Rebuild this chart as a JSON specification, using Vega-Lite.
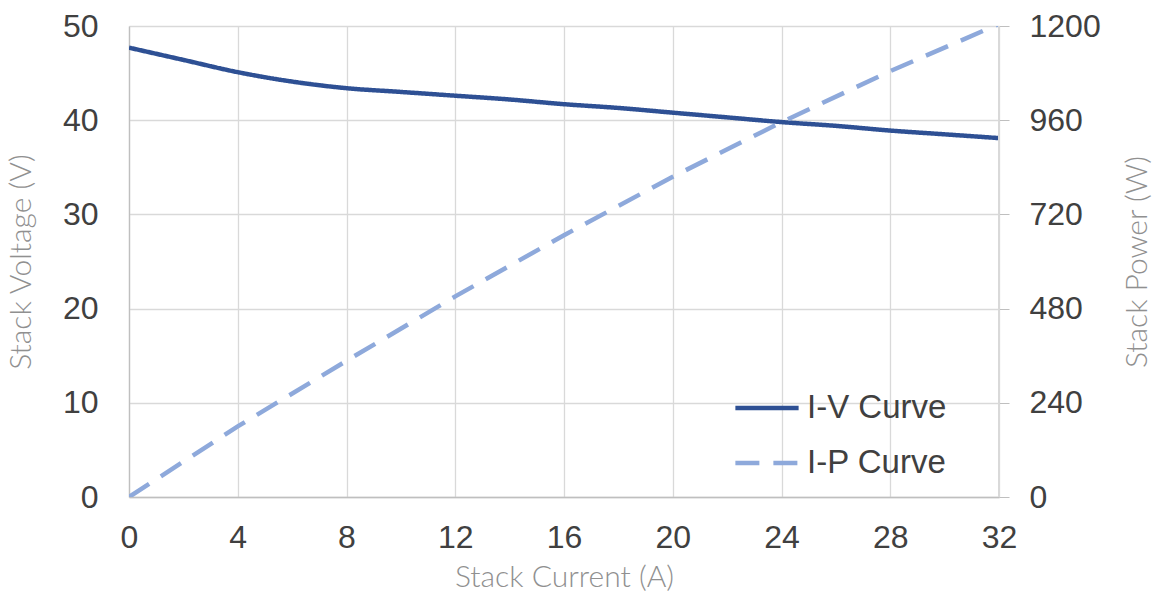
{
  "$schema": "https://vega.github.io/schema/vega-lite/v6.json",
  "width": 870,
  "height": 471,
  "autosize": {"type": "none"},
  "padding": {"left": 129, "top": 26, "right": 162, "bottom": 96},
  "background": "white",
  "config": {
    "view": {"stroke": null},
    "axis": {
      "labelFont": "Liberation Sans",
      "labelFontSize": 32,
      "labelColor": "#404040",
      "titleFont": "Lato",
      "titleFontWeight": 300,
      "titleFontSize": 30,
      "titleColor": "#909090",
      "gridColor": "#d9d9d9",
      "gridWidth": 1.3,
      "domainColor": "#bfbfbf",
      "domainWidth": 1.3,
      "tickColor": "#bfbfbf"
    },
    "legend": {
      "labelFont": "Liberation Sans",
      "labelFontSize": 33,
      "labelColor": "#404040"
    }
  },
  "datasets": {
    "curves": [
      {"series": "I-V Curve", "current": 0, "voltage": 47.7},
      {"series": "I-V Curve", "current": 2, "voltage": 46.4},
      {"series": "I-V Curve", "current": 4, "voltage": 45.1},
      {"series": "I-V Curve", "current": 6, "voltage": 44.1},
      {"series": "I-V Curve", "current": 8, "voltage": 43.4},
      {"series": "I-V Curve", "current": 10, "voltage": 43.0},
      {"series": "I-V Curve", "current": 12, "voltage": 42.6},
      {"series": "I-V Curve", "current": 14, "voltage": 42.2},
      {"series": "I-V Curve", "current": 16, "voltage": 41.7},
      {"series": "I-V Curve", "current": 18, "voltage": 41.3},
      {"series": "I-V Curve", "current": 20, "voltage": 40.8},
      {"series": "I-V Curve", "current": 22, "voltage": 40.3},
      {"series": "I-V Curve", "current": 24, "voltage": 39.8},
      {"series": "I-V Curve", "current": 26, "voltage": 39.4},
      {"series": "I-V Curve", "current": 28, "voltage": 38.9},
      {"series": "I-V Curve", "current": 30, "voltage": 38.5},
      {"series": "I-V Curve", "current": 32, "voltage": 38.1},
      {"series": "I-P Curve", "current": 0, "power": 0},
      {"series": "I-P Curve", "current": 4, "power": 180},
      {"series": "I-P Curve", "current": 8, "power": 347},
      {"series": "I-P Curve", "current": 12, "power": 511},
      {"series": "I-P Curve", "current": 16, "power": 667},
      {"series": "I-P Curve", "current": 20, "power": 816},
      {"series": "I-P Curve", "current": 24, "power": 955},
      {"series": "I-P Curve", "current": 28, "power": 1085},
      {"series": "I-P Curve", "current": 32, "power": 1205}
    ]
  },
  "data": {"name": "curves"},
  "encoding": {
    "x": {
      "field": "current",
      "type": "quantitative",
      "scale": {"domain": [0, 32], "nice": false},
      "axis": {
        "title": "Stack Current (A)",
        "values": [0, 4, 8, 12, 16, 20, 24, 28, 32],
        "ticks": false,
        "tickSize": 0,
        "labelPadding": 25,
        "titlePadding": 9,
        "labelFlush": false
      }
    },
    "color": {
      "field": "series",
      "type": "nominal",
      "scale": {"domain": ["I-V Curve", "I-P Curve"], "range": ["#2E5094", "#8EA9DB"]},
      "legend": {
        "title": null,
        "orient": "none",
        "legendX": 604,
        "legendY": 348,
        "symbolType": "stroke",
        "symbolSize": 4000,
        "symbolStrokeWidth": 4.5,
        "rowPadding": 4,
        "labelOffset": 6
      }
    },
    "strokeDash": {
      "field": "series",
      "type": "nominal",
      "scale": {"domain": ["I-V Curve", "I-P Curve"], "range": [[1, 0], [24, 14]]},
      "legend": {
        "title": null,
        "orient": "none",
        "legendX": 604,
        "legendY": 348,
        "symbolType": "stroke",
        "symbolSize": 4000,
        "symbolStrokeWidth": 4.5,
        "rowPadding": 4,
        "labelOffset": 6
      }
    }
  },
  "layer": [
    {
      "transform": [{"filter": "datum.series === 'I-V Curve'"}],
      "mark": {"type": "line", "strokeWidth": 4.5, "interpolate": "monotone", "clip": true},
      "encoding": {
        "y": {
          "field": "voltage",
          "type": "quantitative",
          "scale": {"domain": [0, 50], "nice": false},
          "axis": {
            "title": "Stack Voltage (V)",
            "orient": "left",
            "values": [0, 10, 20, 30, 40, 50],
            "ticks": false,
            "tickSize": 0,
            "labelPadding": 31,
            "titlePadding": 26
          }
        }
      }
    },
    {
      "transform": [{"filter": "datum.series === 'I-P Curve'"}],
      "mark": {"type": "line", "strokeWidth": 4.5, "clip": true},
      "encoding": {
        "y": {
          "field": "power",
          "type": "quantitative",
          "scale": {"domain": [0, 1200], "nice": false},
          "axis": {
            "title": "Stack Power (W)",
            "orient": "right",
            "values": [0, 240, 480, 720, 960, 1200],
            "format": "d",
            "grid": false,
            "domain": false,
            "ticks": true,
            "tickSize": 10,
            "labelPadding": 20,
            "titleAngle": 270,
            "titlePadding": 52
          }
        }
      }
    },
    {
      "mark": {"type": "rule", "color": "#d9d9d9", "strokeWidth": 1.3},
      "encoding": {"x": {"datum": 32}, "color": {"value": "#d9d9d9"}, "strokeDash": {"value": [1, 0]}}
    }
  ],
  "resolve": {"scale": {"y": "independent"}}
}
